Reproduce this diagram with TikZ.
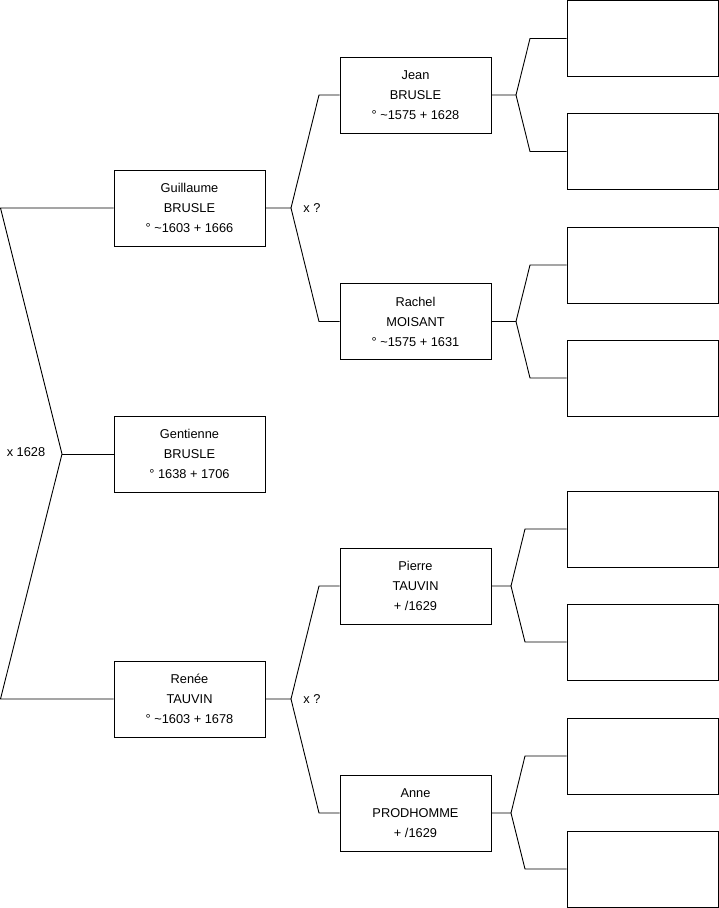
\documentclass[tikz,border=0pt]{standalone}
\usepackage{fontspec}
\setmainfont{Liberation Sans}
\begin{document}
\begin{tikzpicture}[x=1pt,y=-1pt,
  person/.style={draw, line width=0.9pt, minimum width=151pt, minimum height=76pt, inner sep=0pt, align=center, font=\fontsize{12.8}{20}\selectfont},
  link/.style={line width=0.9pt},
  lbl/.style={font=\fontsize{12.8}{14}\selectfont, inner sep=0pt}]
\useasboundingbox (0,0) rectangle (719,908);
% generation 1
\node[person] (guil) at (189.5,208) {Guillaume\\BRUSLE\\° \textasciitilde1603 + 1666};
\node[person] (gent) at (189.5,454) {Gentienne\\BRUSLE\\° 1638 + 1706};
\node[person] (rene) at (189.5,699) {Renée\\TAUVIN\\° \textasciitilde1603 + 1678};
% generation 2
\node[person] (jean) at (415.5,95) {Jean\\BRUSLE\\° \textasciitilde1575 + 1628};
\node[person] (rach) at (415.5,321.5) {Rachel\\MOISANT\\° \textasciitilde1575 + 1631};
\node[person] (pier) at (415.5,586) {Pierre\\TAUVIN\\+ /1629};
\node[person] (anne) at (415.5,813) {Anne\\PRODHOMME\\+ /1629};
% generation 3
\node[person] (e1) at (642.5,38.5) {};
\node[person] (e2) at (642.5,151.5) {};
\node[person] (e3) at (642.5,265) {};
\node[person] (e4) at (642.5,378) {};
\node[person] (e5) at (642.5,529) {};
\node[person] (e6) at (642.5,642) {};
\node[person] (e7) at (642.5,756) {};
\node[person] (e8) at (642.5,869) {};
% couple main
\coordinate (a1) at (0.5,208);
\coordinate (a2) at (0.5,699);
\coordinate (av) at (62,454);
\draw[link] (guil.west) -- (a1) -- (av) -- (a2) -- (rene.west);
\draw[link] (av) -- (gent.west);
\node[lbl] (m0) at (26,452) {x 1628};
% Guillaume's parents
\coordinate (gv) at (291,208);
\coordinate (g1) at (319,95);
\coordinate (g2) at (319,321.5);
\draw[link] (guil.east) -- (gv) -- (g1) -- (jean.west);
\draw[link] (gv) -- (g2) -- (rach.west);
\node[lbl] (m1) at (312,208) {x ?};
% Renée's parents
\coordinate (rv) at (291,699);
\coordinate (r1) at (319,586);
\coordinate (r2) at (319,813);
\draw[link] (rene.east) -- (rv) -- (r1) -- (pier.west);
\draw[link] (rv) -- (r2) -- (anne.west);
\node[lbl] (m2) at (312,699) {x ?};
% Jean
\coordinate (jv) at (516,95);
\coordinate (j1) at (530,38.5);
\coordinate (j2) at (530,151.5);
\draw[link] (jean.east) -- (jv) -- (j1) -- (e1.west);
\draw[link] (jv) -- (j2) -- (e2.west);
% Rachel
\coordinate (hv) at (516,321.5);
\coordinate (h1) at (530,265);
\coordinate (h2) at (530,378);
\draw[link] (rach.east) -- (hv) -- (h1) -- (e3.west);
\draw[link] (hv) -- (h2) -- (e4.west);
% Pierre
\coordinate (pv) at (511,586);
\coordinate (p1) at (525,529);
\coordinate (p2) at (525,642);
\draw[link] (pier.east) -- (pv) -- (p1) -- (e5.west);
\draw[link] (pv) -- (p2) -- (e6.west);
% Anne
\coordinate (nv) at (511,813);
\coordinate (n1) at (525,756);
\coordinate (n2) at (525,869);
\draw[link] (anne.east) -- (nv) -- (n1) -- (e7.west);
\draw[link] (nv) -- (n2) -- (e8.west);
\end{tikzpicture}
\end{document}
